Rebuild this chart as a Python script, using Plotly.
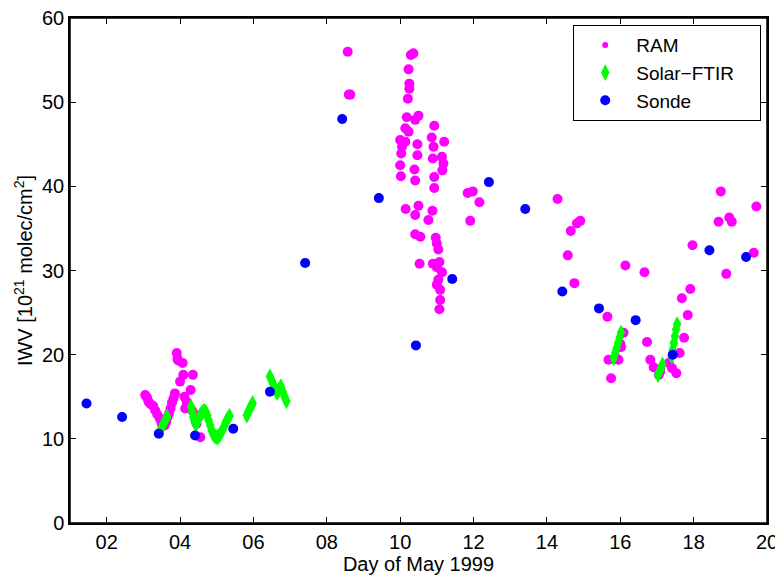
import plotly.graph_objects as go

# ---- data ----
ram_day = [3.05, 3.10, 3.14, 3.20, 3.27, 3.32, 3.38, 3.45, 3.50, 3.58, 3.62, 3.66, 3.70, 3.74,
           3.78, 3.82, 3.86, 3.91, 3.93, 3.95, 4.00, 4.07, 4.09, 4.12, 4.14, 4.18, 4.29, 4.35,
           4.32, 4.41, 4.45, 4.50, 4.55,
           8.57, 8.60, 8.64,
           10.29, 10.36, 10.23, 10.25, 10.25, 10.21, 10.18, 10.50, 10.41, 10.14, 10.23, 10.00,
           10.14, 10.05, 10.03, 10.47, 10.47, 10.00, 10.02, 10.39, 10.41, 10.93, 10.86, 10.91,
           11.20, 10.89, 11.14, 11.18, 11.15, 10.93, 10.93, 10.15, 10.50, 10.41, 10.88, 10.77,
           10.41, 10.55, 10.97, 11.00, 11.04, 10.53, 10.89, 11.07, 11.00, 11.14, 11.04, 11.00,
           11.09, 11.09, 11.07,
           11.84, 11.98, 12.16, 11.91,
           14.29, 14.57, 14.65, 14.82, 14.91, 14.75,
           15.65, 15.68, 15.75, 15.91, 15.95, 16.00, 16.02, 16.09, 16.14, 16.66, 16.73, 16.82,
           16.91, 17.05, 17.09, 17.32, 17.41, 17.53, 17.62, 17.68, 17.74, 17.84, 17.91, 17.97,
           18.68, 18.74, 18.89, 18.97, 19.04, 19.64, 19.71]
ram_iwv = [15.2, 14.9, 14.4, 14.1, 13.9, 13.4, 12.9, 12.4, 11.8, 11.6, 12.0, 12.6, 13.0, 13.6,
           14.3, 14.8, 15.4, 20.2, 19.5, 19.3, 16.8, 19.0, 17.6, 15.0, 13.6, 14.4, 15.8, 17.6,
           13.4, 12.6, 11.8, 12.8, 10.2,
           56.0, 50.9, 50.9,
           55.6, 55.8, 53.9, 52.2, 51.6, 50.4, 48.2, 48.4, 47.9, 46.9, 46.5, 45.5,
           45.3, 44.7, 43.9, 45.0, 43.7, 42.5, 41.2, 42.0, 40.7, 47.2, 45.8, 44.7,
           45.3, 43.3, 43.5, 42.7, 41.9, 41.1, 39.8, 37.3, 37.7, 36.6, 37.1, 36.0,
           34.3, 34.0, 33.9, 33.2, 32.5, 30.8, 30.8, 31.0, 30.4, 29.8, 28.9, 28.3,
           27.7, 26.5, 25.4,
           39.2, 39.4, 38.1, 35.9,
           38.5, 31.8, 34.7, 35.6, 35.9, 28.5,
           24.5, 19.4, 17.2, 19.5, 19.4, 21.3, 20.9, 22.6, 30.6, 29.8, 21.5, 19.4,
           18.5, 17.6, 18.0, 19.0, 18.4, 17.8, 20.2, 26.7, 22.0, 24.7, 27.8, 33.0,
           35.8, 39.4, 29.6, 36.3, 35.8, 32.1, 37.6]

ftir_day = [3.48, 3.52, 3.55, 3.58, 3.62, 3.65,
            4.30, 4.33, 4.36, 4.39, 4.42, 4.46, 4.50, 4.55, 4.60, 4.65, 4.70, 4.74, 4.78,
            4.82, 4.86, 4.90, 4.95, 5.00, 5.05, 5.10, 5.15, 5.20, 5.25, 5.30, 5.35,
            5.82, 5.86, 5.90, 5.94, 5.98,
            6.45, 6.50, 6.55, 6.60, 6.65, 6.70, 6.75, 6.80, 6.85, 6.90,
            15.82, 15.86, 15.90, 15.94, 15.98, 16.02,
            17.03, 17.07, 17.11, 17.15, 17.40, 17.43, 17.46, 17.49, 17.52, 17.55]
ftir_iwv = [11.2, 11.5, 11.8, 12.1, 12.4, 12.6,
            13.8, 13.2, 12.6, 12.1, 11.8, 11.9, 12.3, 12.8, 13.1, 13.3, 13.2, 12.8, 12.2,
            11.6, 11.0, 10.6, 10.3, 10.2, 10.3, 10.6, 11.0, 11.5, 12.0, 12.4, 12.7,
            12.8, 13.2, 13.6, 13.9, 14.2,
            17.4, 16.9, 16.4, 15.8, 15.5, 15.9, 16.2, 15.6, 15.0, 14.5,
            19.6, 20.2, 20.8, 21.4, 22.0, 22.6,
            17.6, 18.0, 18.4, 18.8, 19.8, 20.6, 21.4, 22.2, 23.0, 23.6]

sonde_day = [1.45, 2.42, 3.42, 4.41, 5.45, 6.45, 7.41, 8.42, 9.42, 10.43, 11.42, 12.42,
             13.41, 14.42, 15.42, 16.42, 17.43, 18.43, 19.43]
sonde_iwv = [14.2, 12.6, 10.6, 10.4, 11.2, 15.6, 30.9, 48.0, 38.6, 21.1, 29.0, 40.5,
             37.3, 27.5, 25.5, 24.1, 20.0, 32.4, 31.6]

x_tickvals = [2, 4, 6, 8, 10, 12, 14, 16, 18, 20]
x_ticktext = ["02", "04", "06", "08", "10", "12", "14", "16", "18", "20"]
y_tickvals = [0, 10, 20, 30, 40, 50, 60]

series_names = ["RAM", "Solar\u2212FTIR" + "\u00a0" * 4, "Sonde"]

MAG = "#FF00FF"
GRN = "#00FF00"
BLU = "#0000FF"
FONT = "Liberation Sans, Arial, sans-serif"

fig = go.Figure()
fig.add_trace(go.Scatter(x=ram_day, y=ram_iwv, mode="markers", showlegend=False,
                         marker=dict(color=MAG, size=10, symbol="circle", line=dict(width=0))))
fig.add_trace(go.Scatter(x=ftir_day, y=ftir_iwv, mode="markers", showlegend=False,
                         marker=dict(color=GRN, size=12, symbol="diamond-tall", line=dict(width=0))))
fig.add_trace(go.Scatter(x=sonde_day, y=sonde_iwv, mode="markers", showlegend=False,
                         marker=dict(color=BLU, size=10, symbol="circle", line=dict(width=0))))

# legend entries
for name, col, sz, sym in [(series_names[0], MAG, 6, "circle"),
                           (series_names[1], GRN, 12, "diamond-tall"),
                           (series_names[2], BLU, 10, "circle")]:
    fig.add_trace(go.Scatter(x=[None], y=[None], mode="markers", name=name,
                             marker=dict(color=col, size=sz, symbol=sym, line=dict(width=0))))

axis_common = dict(showgrid=False, zeroline=False, showline=True, linecolor="black",
                   linewidth=1.5, mirror="ticks", ticks="inside", ticklen=6,
                   tickcolor="black", tickwidth=1, automargin=False,
                   ticklabeloverflow="allow",
                   tickfont=dict(family=FONT, size=20, color="black"))

# the page body adds an 8px offset, so the figure is 8px smaller and margins compensate
fig.update_layout(
    width=775, height=570,
    margin=dict(l=62, r=16, t=10, b=55, pad=0),
    paper_bgcolor="white", plot_bgcolor="white",
    font=dict(family=FONT, size=20, color="black"),
    xaxis=dict(range=[1, 20], tickvals=x_tickvals, ticktext=x_ticktext,
               title=dict(text="Day of May 1999", standoff=0, font=dict(size=20)), **axis_common),
    yaxis=dict(range=[0, 60], tickvals=y_tickvals,
               title=dict(text="IWV [10<sup>21</sup> molec/cm<sup>2</sup>]", standoff=4,
                          font=dict(size=20)), **axis_common),
    legend=dict(x=0.722, y=0.986, xanchor="left", yanchor="top",
                bordercolor="black", borderwidth=1, bgcolor="white",
                font=dict(size=19), itemwidth=52, tracegroupgap=0),
    shapes=[dict(type="rect", xref="paper", yref="paper", x0=0, x1=1, y0=0, y1=1,
                 line=dict(color="black", width=1.5), fillcolor="rgba(0,0,0,0)", layer="above")],
)

fig.write_html("out.html")
